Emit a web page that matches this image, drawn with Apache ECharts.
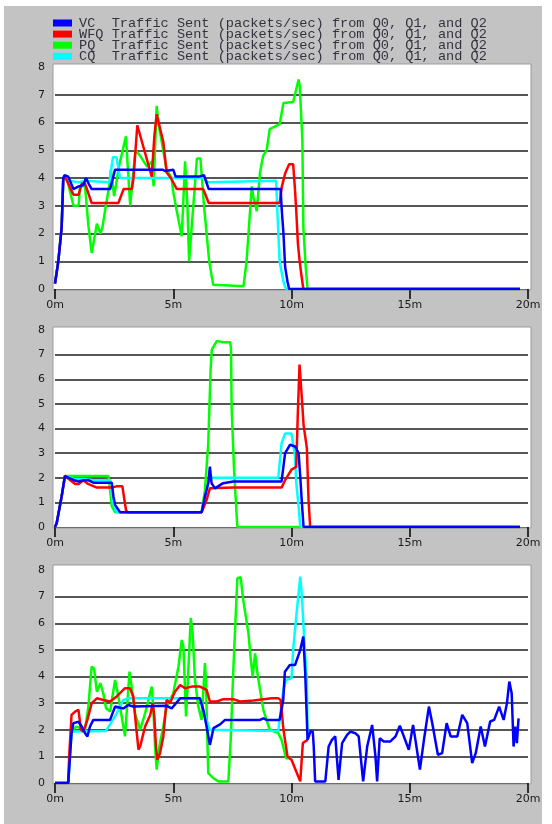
<!DOCTYPE html>
<html>
<head>
<meta charset="utf-8">
<script src="https://cdn.jsdelivr.net/npm/echarts@6/dist/echarts.min.js"></script>
<style>
  html, body { margin: 0; padding: 0; background: #fff; }
  #chart { width: 552px; height: 824px; }
</style>
</head>
<body>
<div id="chart"></div>
<script>
// queue names + colors
const queues = ["VC", "WFQ", "PQ", "CQ"];
const colors = { VC: "#0000ff", WFQ: "#ff0000", PQ: "#00ff00", CQ: "#00ffff" };
const legendSuffix = "Traffic Sent (packets/sec) from Q0, Q1, and Q2";

// axis ticks
const yTicks = [0, 1, 2, 3, 4, 5, 6, 7, 8];
const xTicks = [0, 5, 10, 15, 20]; // minutes

// ---- panel 1 : [minute, packets/sec]
const vc1 = [[0,0.2],[0.14,1.0],[0.28,2.2],[0.35,4.0],[0.4,4.1],[0.56,4.05],[0.78,3.6],[1.0,3.7],[1.2,3.75],[1.31,4.0],[1.45,3.75],[1.55,3.6],[2.33,3.6],[2.54,4.3],[4.56,4.3],[4.65,4.25],[4.72,4.3],[5.0,4.3],[5.1,4.05],[6.08,4.05],[6.3,4.1],[6.5,3.6],[9.54,3.6],[9.59,2.83],[9.66,2.0],[9.73,0.8],[9.83,0.27],[9.9,0],[19.66,0]];
const cq1 = [[0,0.2],[0.14,1.0],[0.28,2.2],[0.35,4.0],[0.45,4.1],[0.6,3.9],[1.0,3.85],[1.3,3.9],[2.3,3.85],[2.45,4.75],[2.6,4.75],[2.75,4.0],[6.3,4.0],[6.45,3.85],[9.35,3.9],[9.4,2.8],[9.5,0.98],[9.66,0.26],[9.77,0],[19.66,0]];
const wfq1 = [[0,0.2],[0.14,1.0],[0.28,2.2],[0.35,4.0],[0.45,4.0],[0.78,3.4],[1.0,3.4],[1.13,3.8],[1.27,3.8],[1.55,3.1],[2.68,3.1],[2.9,3.6],[3.25,3.6],[3.32,4.0],[3.48,5.9],[4.09,4.05],[4.2,5.5],[4.3,6.3],[4.58,5.3],[4.72,4.2],[4.9,4.0],[5.15,3.6],[6.27,3.6],[6.5,3.1],[9.5,3.1],[9.59,3.68],[9.73,4.16],[9.9,4.5],[10.07,4.5],[10.14,3.68],[10.2,2.84],[10.27,1.64],[10.34,1.04],[10.41,0.56],[10.5,0],[19.66,0]];
const pq1 = [[0,0.2],[0.14,1.0],[0.28,2.2],[0.35,4.0],[0.5,4.0],[0.78,3.0],[1.0,3.0],[1.06,3.7],[1.27,3.7],[1.41,2.3],[1.55,1.3],[1.7,2.0],[1.77,2.35],[1.92,2.0],[2.0,2.2],[2.15,3.0],[2.29,3.7],[2.36,4.3],[2.5,3.35],[2.57,3.7],[2.7,4.4],[3.0,5.5],[3.07,4.5],[3.18,3.0],[3.25,3.0],[3.29,4.0],[3.4,5.0],[3.6,4.8],[3.9,4.4],[4.1,4.6],[4.17,3.7],[4.3,6.6],[4.37,6.0],[4.72,4.3],[4.93,4.0],[5.0,3.5],[5.15,2.8],[5.36,1.9],[5.43,1.9],[5.5,4.6],[5.6,3.0],[5.67,1.0],[5.74,1.0],[6.0,4.7],[6.15,4.7],[6.3,3.0],[6.52,1.0],[6.69,0.15],[7.97,0.1],[8.1,1.0],[8.32,3.7],[8.39,3.3],[8.53,2.8],[8.67,4.2],[8.8,4.8],[8.95,5.0],[9.08,5.76],[9.5,5.94],[9.66,6.7],[10.07,6.74],[10.3,7.55],[10.35,7.3],[10.46,5.36],[10.5,2.24],[10.6,0.8],[10.68,0],[19.66,0]];

// ---- panel 2
const vc2 = [[0,0],[0.07,0.15],[0.28,1.24],[0.42,2.07],[0.5,2.05],[0.8,1.9],[1.0,1.85],[1.2,1.9],[1.4,1.9],[1.62,1.8],[2.4,1.8],[2.47,1.24],[2.54,0.9],[2.68,0.7],[2.75,0.6],[6.2,0.6],[6.34,1.24],[6.48,1.78],[6.55,2.45],[6.62,1.78],[6.76,1.57],[7.11,1.78],[7.54,1.85],[9.58,1.85],[9.73,3.0],[9.94,3.34],[10.15,3.27],[10.3,3.0],[10.37,2.05],[10.44,0.97],[10.51,0],[19.66,0]];
const cq2 = [[0,0],[0.07,0.15],[0.28,1.24],[0.42,2.07],[0.5,2.05],[0.8,1.95],[1.2,1.95],[1.62,1.9],[2.33,1.9],[2.45,1.0],[2.6,0.6],[6.2,0.6],[6.4,1.5],[6.55,2.0],[9.44,2.0],[9.58,3.4],[9.73,3.8],[10.0,3.8],[10.15,2.85],[10.2,1.8],[10.3,0.85],[10.37,0],[19.66,0]];
const wfq2 = [[0,0],[0.07,0.15],[0.28,1.24],[0.42,2.07],[0.5,2.0],[0.85,1.75],[1.0,1.75],[1.2,1.9],[1.4,1.75],[1.77,1.6],[2.4,1.6],[2.6,1.65],[2.85,1.65],[2.92,1.2],[3.0,0.7],[3.06,0.6],[6.2,0.6],[6.41,1.1],[6.55,1.57],[7.54,1.6],[9.58,1.6],[9.73,1.9],[10.0,2.33],[10.2,2.44],[10.27,4.7],[10.34,6.6],[10.4,6.6],[10.44,5.2],[10.51,4.15],[10.65,3.2],[10.72,1.1],[10.79,0],[19.66,0]];
const pq2 = [[0,0],[0.07,0.15],[0.28,1.24],[0.42,2.07],[2.26,2.07],[2.33,1.5],[2.4,0.85],[2.54,0.6],[6.2,0.6],[6.34,1.5],[6.48,3.4],[6.58,6.4],[6.63,7.2],[6.84,7.55],[7.12,7.5],[7.4,7.5],[7.44,7.3],[7.47,4.8],[7.57,2.35],[7.71,0],[19.66,0]];

// ---- panel 3
const vc3 = [[0,0],[0.56,0],[0.7,1.87],[0.78,2.25],[0.99,2.3],[1.13,2.12],[1.27,1.87],[1.37,1.75],[1.48,2.12],[1.62,2.37],[2.33,2.37],[2.54,2.87],[2.89,2.8],[3.1,2.93],[3.31,2.87],[4.72,2.9],[4.93,2.8],[5.29,3.18],[6.13,3.18],[6.27,2.75],[6.41,2.12],[6.55,1.43],[6.7,2.06],[6.98,2.2],[7.19,2.37],[8.67,2.37],[8.81,2.43],[8.95,2.37],[9.5,2.37],[9.65,3.12],[9.72,4.18],[9.93,4.43],[10.15,4.43],[10.37,5.0],[10.5,5.5],[10.58,4.12],[10.68,1.62],[10.75,1.62],[10.8,1.93],[10.9,1.93],[10.94,1.37],[11.0,0.06],[11.43,0.06],[11.57,1.37],[11.71,1.62],[11.85,1.75],[11.99,0.12],[12.14,1.5],[12.35,1.81],[12.49,1.93],[12.7,1.87],[12.84,1.75],[13.03,0.06],[13.2,1.37],[13.41,2.18],[13.55,1.0],[13.62,0.06],[13.73,1.68],[13.9,1.56],[14.18,1.56],[14.4,1.75],[14.58,2.15],[14.75,1.75],[14.96,1.25],[15.14,2.18],[15.24,1.62],[15.43,0.5],[15.6,1.62],[15.81,2.87],[15.95,2.25],[16.19,1.06],[16.37,1.12],[16.56,2.25],[16.73,1.75],[17.01,1.75],[17.22,2.56],[17.43,2.25],[17.64,0.75],[17.79,1.12],[18.0,2.12],[18.18,1.37],[18.4,2.31],[18.57,2.37],[18.78,2.87],[18.97,2.37],[19.11,3.0],[19.21,3.81],[19.31,3.37],[19.39,1.37],[19.46,2.12],[19.53,1.5],[19.6,2.43]];
const cq3 = [[0,0],[0.56,0],[0.7,1.93],[2.15,1.95],[2.54,2.5],[2.89,3.12],[3.1,3.18],[6.13,3.18],[6.3,2.6],[6.55,2.0],[9.44,1.95],[9.58,3.0],[9.66,3.5],[9.77,3.87],[10.0,3.93],[10.07,5.0],[10.2,6.25],[10.37,7.75],[10.44,7.0],[10.54,5.37],[10.65,3.87],[10.68,1.62]];
const wfq3 = [[0,0],[0.56,0],[0.6,1.0],[0.7,2.56],[0.85,2.68],[0.99,2.75],[1.1,2.0],[1.2,1.93],[1.37,2.37],[1.55,3.0],[1.77,3.18],[2.04,3.12],[2.33,3.06],[2.61,3.25],[2.96,3.56],[3.17,3.56],[3.31,3.25],[3.43,2.12],[3.53,1.25],[3.6,1.37],[3.81,2.12],[4.03,2.56],[4.13,3.0],[4.2,2.5],[4.27,1.37],[4.33,0.87],[4.44,1.12],[4.58,1.75],[4.72,3.12],[4.86,3.0],[5.07,3.43],[5.29,3.68],[5.5,3.56],[5.78,3.62],[6.13,3.62],[6.41,3.5],[6.55,3.06],[6.84,3.06],[7.12,3.15],[7.54,3.15],[7.82,3.06],[8.39,3.1],[9.17,3.18],[9.44,3.18],[9.54,3.12],[9.66,2.0],[9.83,1.0],[10.0,0.87],[10.2,0.43],[10.37,0.06],[10.48,1.5],[10.68,1.62]];
const pq3 = [[0,0],[0.56,0],[0.6,0.8],[0.7,1.93],[0.9,2.12],[1.27,2.0],[1.41,2.87],[1.55,4.37],[1.65,4.3],[1.77,3.43],[1.92,3.75],[2.04,3.37],[2.16,2.81],[2.33,2.68],[2.54,3.87],[2.68,3.25],[2.82,2.5],[2.96,1.75],[3.03,1.75],[3.15,4.18],[3.24,3.62],[3.38,2.62],[3.6,2.0],[3.81,2.62],[3.95,3.12],[4.09,3.62],[4.16,2.75],[4.23,1.37],[4.3,0.5],[4.41,1.37],[4.58,2.12],[4.72,2.87],[5.0,3.37],[5.22,4.37],[5.36,5.37],[5.43,5.12],[5.54,2.5],[5.6,3.5],[5.74,6.2],[5.82,5.62],[5.92,3.87],[6.06,2.87],[6.2,2.37],[6.34,4.5],[6.38,3.87],[6.48,0.37],[6.7,0.18],[6.91,0.06],[7.33,0.06],[7.43,1.62],[7.54,4.25],[7.71,7.69],[7.85,7.73],[7.96,6.87],[8.18,5.62],[8.28,4.62],[8.36,4.0],[8.46,4.87],[8.56,4.12],[8.67,3.5],[8.81,2.75],[9.08,2.0],[9.44,1.87],[9.58,1.62],[9.77,0.93],[10.0,0.93]];

// draw order: PQ, CQ, WFQ, VC (blue on top)
const panels = [
  { PQ: pq1, CQ: cq1, WFQ: wfq1, VC: vc1 },
  { PQ: pq2, CQ: cq2, WFQ: wfq2, VC: vc2 },
  { PQ: pq3, CQ: cq3, WFQ: wfq3, VC: vc3 },
];

// layout of the three plot boxes
const grids = [
  { left: 55, width: 473, top: 67, height: 222 },
  { left: 55, width: 473, top: 330, height: 197 },
  { left: 55, width: 473, top: 570, height: 213 },
];
const boxes = [
  { x: 53, y: 64, width: 478, height: 226 },
  { x: 53, y: 327, width: 478, height: 201 },
  { x: 53, y: 565, width: 478, height: 219 },
];

const chart = echarts.init(document.getElementById("chart"));

const xAxes = grids.map((g, i) => ({
  type: "value",
  gridIndex: i,
  min: xTicks[0],
  max: xTicks[xTicks.length - 1],
  interval: 5,
  axisLine: { show: true, lineStyle: { color: "#6e6e6e", width: 1 } },
  axisTick: { show: true, length: 10, lineStyle: { color: "#000", width: 1.5 } },
  axisLabel: {
    margin: 11,
    color: "#1a1a1a",
    fontFamily: "DejaVu Sans",
    fontSize: 11,
    formatter: (v) => v + "m",
  },
  splitLine: { show: false },
}));

const yAxes = grids.map((g, i) => ({
  type: "value",
  gridIndex: i,
  min: yTicks[0],
  max: yTicks[yTicks.length - 1],
  interval: 1,
  axisLine: { show: false },
  axisTick: { show: false },
  axisLabel: {
    margin: 10,
    color: "#1a1a1a",
    fontFamily: "DejaVu Sans",
    fontSize: 11,
  },
  splitLine: {
    show: true,
    showMinLine: false,
    showMaxLine: false,
    lineStyle: { color: "#1e1e1e", width: 1.5 },
  },
}));

const series = [];
panels.forEach((p, i) => {
  ["PQ", "CQ", "WFQ", "VC"].forEach((q) => {
    series.push({
      name: q,
      type: "line",
      xAxisIndex: i,
      yAxisIndex: i,
      data: p[q],
      showSymbol: false,
      symbol: "none",
      lineStyle: { color: colors[q], width: 2.5 },
      itemStyle: { color: colors[q] },
    });
  });
});

const option = {
  backgroundColor: "#ffffff",
  animation: false,
  graphic: [
    { type: "rect", z: -20, shape: { x: 4, y: 6, width: 538, height: 818 }, style: { fill: "#c3c3c3" } },
    ...boxes.map((b) => ({
      type: "rect",
      z: -10,
      shape: b,
      style: { fill: "#ffffff", stroke: "#9a9a9a", lineWidth: 1 },
    })),
  ],
  legend: {
    data: queues,
    orient: "vertical",
    left: 53,
    top: 16,
    padding: 0,
    itemWidth: 19,
    itemHeight: 7,
    itemGap: -2.9,
    icon: "rect",
    selectedMode: false,
    formatter: (name) => name.padEnd(4) + legendSuffix,
    textStyle: {
      fontFamily: "Liberation Mono",
      fontSize: 13.6,
      color: "#33333f",
      padding: [0, 0, 0, 2],
    },
  },
  grid: grids,
  xAxis: xAxes,
  yAxis: yAxes,
  series: series,
};

chart.setOption(option);
</script>
</body>
</html>
